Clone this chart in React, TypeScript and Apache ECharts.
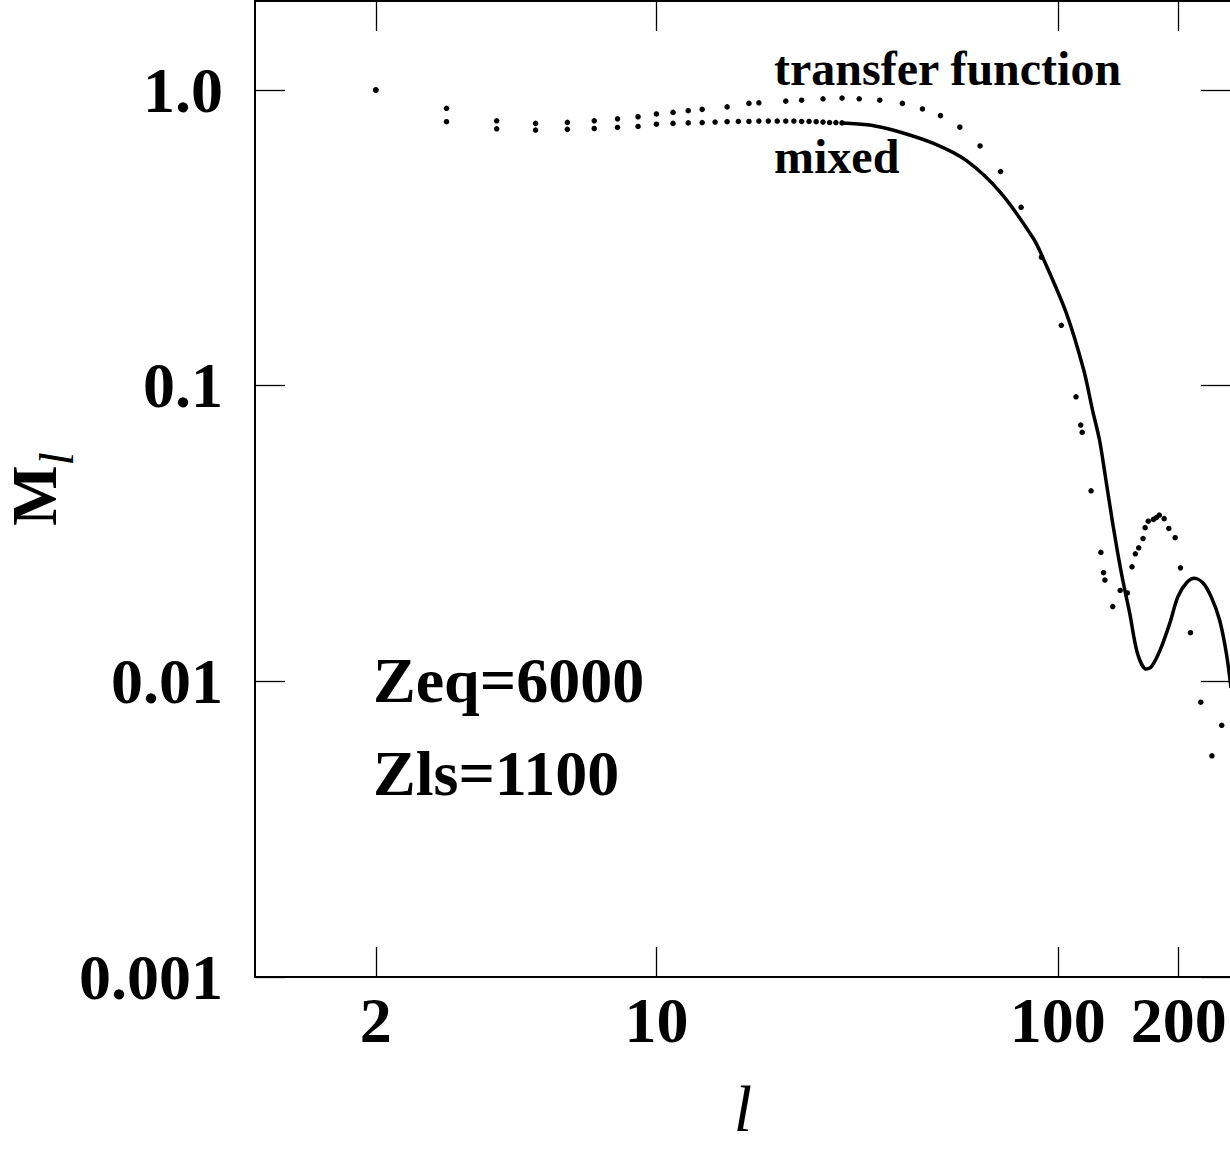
import React, { useEffect, useRef } from "react";
import * as echarts from "echarts";

// ---- data ----
const transferL = [2, 3, 4, 5, 6, 7, 8, 9, 10, 11, 12, 13, 15, 17, 18, 21, 23, 26, 29, 32, 36, 41, 46, 51, 57, 64, 72, 81,
  91, 102, 111, 114, 115, 121, 128, 130, 131, 137, 143, 149, 153, 156, 159, 163, 165, 168, 173, 176, 179, 184, 189, 196, 202, 214, 227, 242, 256];
const transferM = [1.0, 0.867, 0.787, 0.771, 0.777, 0.787, 0.799, 0.812, 0.83, 0.84, 0.851, 0.86, 0.877, 0.901, 0.905, 0.917, 0.924, 0.934, 0.939, 0.934, 0.924, 0.901, 0.863, 0.819, 0.749, 0.647, 0.53, 0.401,
  0.272, 0.16, 0.0917, 0.0736, 0.0695, 0.0441, 0.0273, 0.0233, 0.022, 0.0179, 0.0203, 0.0199, 0.0244, 0.027, 0.0283, 0.0304, 0.0331, 0.0348, 0.0353, 0.0358, 0.0365, 0.0355, 0.0329, 0.0306, 0.0242, 0.0146, 0.0085, 0.0056, 0.0071];

const mixedDotL = [2, 3, 4, 5, 6, 7, 8, 9, 10, 11, 12, 13, 14, 15, 16, 17, 18, 19, 20, 21, 22, 23, 24, 25, 26, 27, 28, 29];
const mixedDotM = [1.0, 0.781, 0.739, 0.732, 0.736, 0.741, 0.747, 0.753, 0.766, 0.771, 0.774, 0.776, 0.779, 0.781, 0.783, 0.783, 0.785, 0.785, 0.785, 0.785, 0.785, 0.783, 0.783, 0.781, 0.779, 0.776, 0.776, 0.774];

const mixedLineL = [29, 30, 35, 40, 49, 59, 72, 87, 92, 105, 116, 122, 127, 131, 137, 144, 151, 158, 166, 171, 180, 190, 199, 209, 219, 230, 241, 253, 263, 270];
const mixedLineM = [0.774, 0.772, 0.756, 0.724, 0.66, 0.579, 0.45, 0.314, 0.269, 0.176, 0.113, 0.0827, 0.0655, 0.0505, 0.0342, 0.0232, 0.017, 0.0124, 0.011, 0.0112, 0.0128, 0.0157, 0.0193, 0.0215, 0.0223, 0.0215, 0.0193, 0.0161, 0.0124, 0.0095];

const xTickValues = [2, 10, 100, 200];
const xTickLabels = ["2", "10", "100", "200"];
const yTickValues = [0.001, 0.01, 0.1, 1];
const yTickLabels = ["0.001", "0.01", "0.1", "1.0"];

const xRange = [1, 270];
const yRange = [0.001, 2];

const labelTransfer = "transfer function";
const labelMixed = "mixed";
const labelZeq = "Zeq=6000";
const labelZls = "Zls=1100";

const FONT = '"Liberation Serif", "Times New Roman", serif';

function pickLabel(vals: number[], labels: string[]) {
  return (v: number) => {
    let best = 0;
    let bd = Infinity;
    vals.forEach((t, i) => {
      const d = Math.abs(Math.log10(t) - Math.log10(v));
      if (d < bd) {
        bd = d;
        best = i;
      }
    });
    return labels[best];
  };
}

const pairs = (xs: number[], ys: number[]) => xs.map((x, i) => [x, ys[i]]);

export default function App() {
  const ref = useRef<HTMLDivElement>(null);

  useEffect(() => {
    document.body.style.margin = "0";
    if (!ref.current) return;
    const chart = echarts.init(ref.current, null, { renderer: "svg" });

    const axisLine = { show: true, onZero: false, lineStyle: { color: "#000", width: 2 } };
    const tickStyle = { color: "#000", width: 1.3 };
    const labelFont = { color: "#000", fontSize: 64, fontWeight: "bold", fontFamily: FONT };

    const option: any = {
      animation: false,
      backgroundColor: "#fff",
      grid: { left: 255, top: 1, right: -1, bottom: 186, containLabel: false, outerBoundsMode: "none" },
      xAxis: [
        {
          type: "log",
          logBase: 10,
          min: xRange[0],
          max: xRange[1],
          position: "bottom",
          axisLine,
          axisTick: { show: true, inside: true, length: 30, customValues: xTickValues, lineStyle: tickStyle },
          axisLabel: { show: true, customValues: xTickValues, formatter: pickLabel(xTickValues, xTickLabels), margin: 11, hideOverlap: false, ...labelFont },
          splitLine: { show: false },
          minorTick: { show: false },
          name: "l",
          nameLocation: "middle",
          nameGap: 98,
          nameMoveOverlap: false,
          nameTextStyle: { color: "#000", fontSize: 66, fontStyle: "italic", fontFamily: FONT },
        },
        {
          type: "log",
          logBase: 10,
          min: xRange[0],
          max: xRange[1],
          position: "top",
          axisLine,
          axisTick: { show: true, inside: true, length: 30, customValues: xTickValues, lineStyle: tickStyle },
          axisLabel: { show: false },
          splitLine: { show: false },
        },
      ],
      yAxis: [
        {
          type: "log",
          logBase: 10,
          min: yRange[0],
          max: yRange[1],
          position: "left",
          axisLine,
          axisTick: { show: true, inside: true, length: 30, customValues: yTickValues, lineStyle: tickStyle },
          axisLabel: { show: true, customValues: yTickValues, formatter: pickLabel(yTickValues, yTickLabels), margin: 32, hideOverlap: false, ...labelFont },
          splitLine: { show: false },
          minorTick: { show: false },
          name: "{m|M}{s|l}",
          nameLocation: "middle",
          nameRotate: 90,
          nameGap: 175,
          nameMoveOverlap: false,
          nameTextStyle: {
            color: "#000",
            rich: {
              m: { fontSize: 64, fontWeight: "bold", fontFamily: FONT, color: "#000", verticalAlign: "top" },
              s: { fontSize: 48, fontStyle: "italic", fontFamily: FONT, color: "#000", verticalAlign: "bottom", padding: [30, 0, 0, 0] },
            },
          },
        },
        {
          type: "log",
          logBase: 10,
          min: yRange[0],
          max: yRange[1],
          position: "right",
          axisLine,
          axisTick: { show: true, inside: true, length: 30, customValues: yTickValues, lineStyle: tickStyle },
          axisLabel: { show: false },
          splitLine: { show: false },
        },
      ],
      series: [
        {
          name: "transfer function",
          type: "scatter",
          xAxisIndex: 0,
          yAxisIndex: 0,
          symbol: "circle",
          symbolSize: 5.5,
          itemStyle: { color: "#000", opacity: 1 },
          data: pairs(transferL, transferM),
        },
        {
          name: "mixed",
          type: "scatter",
          xAxisIndex: 0,
          yAxisIndex: 0,
          symbol: "circle",
          symbolSize: 5.5,
          itemStyle: { color: "#000", opacity: 1 },
          data: pairs(mixedDotL, mixedDotM),
        },
        {
          name: "mixed line",
          type: "line",
          xAxisIndex: 0,
          yAxisIndex: 0,
          showSymbol: false,
          smooth: 0.3,
          clip: true,
          lineStyle: { color: "#000", width: 3.5 },
          data: pairs(mixedLineL, mixedLineM),
        },
      ],
      graphic: [
        { type: "text", x: 774, y: 68, style: { text: labelTransfer, fill: "#000", font: `bold 48px ${FONT}`, align: "left", verticalAlign: "middle" } },
        { type: "text", x: 774, y: 156, style: { text: labelMixed, fill: "#000", font: `bold 48px ${FONT}`, align: "left", verticalAlign: "middle" } },
        { type: "text", x: 373, y: 680, style: { text: labelZeq, fill: "#000", font: `bold 64px ${FONT}`, align: "left", verticalAlign: "middle" } },
        { type: "text", x: 373, y: 773, style: { text: labelZls, fill: "#000", font: `bold 64px ${FONT}`, align: "left", verticalAlign: "middle" } },
      ],
    };

    chart.setOption(option);
    return () => chart.dispose();
  }, []);

  return <div ref={ref} style={{ width: 1230, height: 1163, position: "absolute", left: 0, top: 0 }} />;
}
